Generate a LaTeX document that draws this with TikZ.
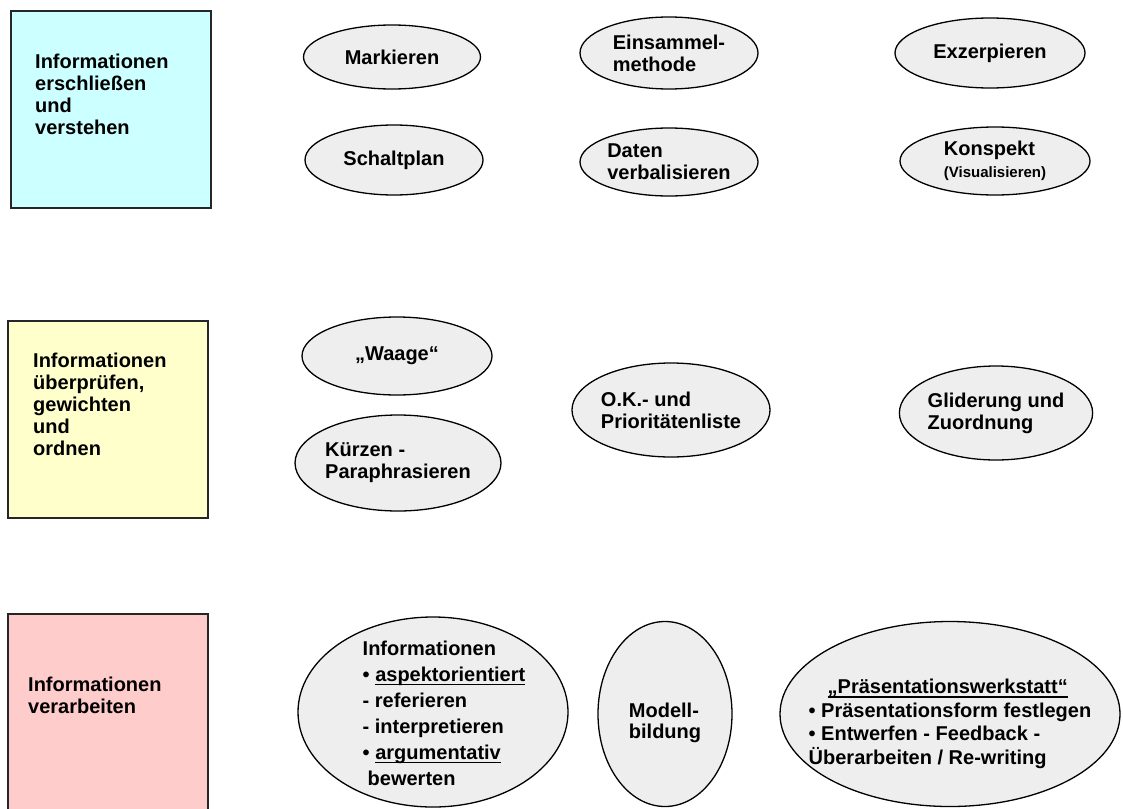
\documentclass[tikz,border=0pt]{standalone}
\usepackage{fontspec}
\setmainfont{Liberation Sans}
\usetikzlibrary{shapes.geometric}
\definecolor{stagecyan}{HTML}{CCFFFF}
\definecolor{stageyellow}{HTML}{FFFFCC}
\definecolor{stagepink}{HTML}{FFCCCC}
\definecolor{methgray}{HTML}{EEEEEE}
\newsavebox\ulbox
\newcommand\ulin[1]{\sbox\ulbox{#1}\rlap{\rule[-4pt]{\wd\ulbox}{1.4pt}}\usebox\ulbox}

\begin{document}
\begin{tikzpicture}[x=1pt,y=-1pt,
  stage/.style={draw=black!85,line width=1.6pt,minimum width=200pt,inner sep=0pt,anchor=north west},
  stagetext/.style={anchor=north west,inner sep=0pt,align=left,font=\fontsize{20}{22}\selectfont\bfseries},
  method/.style={ellipse,draw,line width=1.3pt,fill=methgray,inner sep=0pt,align=left,font=\fontsize{20}{22}\selectfont\bfseries},
  methtext/.style={inner sep=0pt,align=left,font=\fontsize{20}{22}\selectfont\bfseries}]
  \useasboundingbox (0,0) rectangle (1123,808);
  \clip (0,0) rectangle (1123,808);

  % stages
  \node[stage,fill=stagecyan,minimum height=197pt] (stage1) at (10,10) {};
  \node[stage,fill=stageyellow,minimum height=197pt] (stage2) at (7,320) {};
  \node[stage,fill=stagepink,minimum height=210pt] (stage3) at (7,613) {};
  \node[stagetext] (lab1) at (35,54) {Informationen\\erschließen\\und\\verstehen};
  \node[stagetext] (lab2) at (33,353) {Informationen\\überprüfen,\\gewichten\\und\\ordnen};
  \node[stagetext] (lab3) at (28,677) {Informationen\\verarbeiten};

  % erschliessen
  \node[method,minimum width=177pt,minimum height=64pt] (mark) at (392,57) {Markieren};
  \node[method,minimum width=178pt,minimum height=72pt] (samm) at (669,53) {Einsammel-\\methode};
  \node[method,minimum width=190pt,minimum height=70pt] (exz) at (990,53) {Exzerpieren};
  \node[method,minimum width=178pt,minimum height=70pt] (schalt) at (394,160) {Schaltplan};
  \node[method,minimum width=178pt,minimum height=68pt] (daten) at (669,162) {Daten\\verbalisieren};
  \node[method,minimum width=190pt,minimum height=68pt] (konsp) at (995,161)
    {Konspekt\\{\fontsize{15}{17}\selectfont(Visualisieren)}};

  % pruefen
  \node[method,minimum width=190pt,minimum height=78pt] (waage) at (397,356) {„Waage“};
  \node[method,minimum width=192pt,minimum height=96pt] (kurz) at (398,463) {Kürzen -\\Paraphrasieren};
  \node[method,minimum width=177pt,minimum height=94pt] (prio) at (671,410) {O.K.- und\\Prioritätenliste};
  \node[method,minimum width=192pt,minimum height=94pt] (glied) at (996,413) {Gliderung und\\Zuordnung};

  % verarbeiten
  \node[method,minimum width=270pt,minimum height=190pt] (info) at (433,712) {};
  \node[methtext,font=\fontsize{20}{26}\selectfont\bfseries] (infotext) at (444,713)
    {Informationen\\• \ulin{aspektorientiert}\\- referieren\\- interpretieren\\• \ulin{argumentativ}\\\hspace*{5pt}bewerten};
  \node[method,minimum width=134pt,minimum height=185pt] (modell) at (665,714) {};
  \node[methtext,font=\fontsize{20}{21}\selectfont\bfseries] (modelltext) at (665,723) {Modell-\\bildung};
  \node[method,minimum width=340pt,minimum height=185pt] (praes) at (950,714) {};
  \node[methtext,font=\fontsize{20}{23.5}\selectfont\bfseries] (praestext) at (950,724)
    {\hspace*{19pt}\ulin{„Präsentationswerkstatt“}\\• Präsentationsform festlegen\\• Entwerfen - Feedback -\\Überarbeiten / Re-writing};
\end{tikzpicture}
\end{document}
